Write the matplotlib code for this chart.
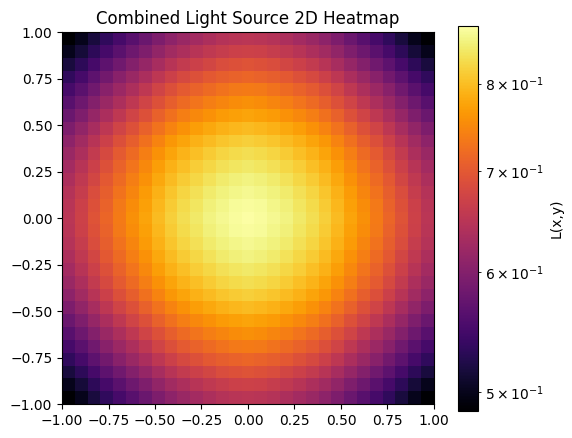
import numpy as np
import matplotlib
matplotlib.use("Agg")
import matplotlib.pyplot as plt
from matplotlib.colors import LogNorm

# L(x,y) per cell, 29 x 29 grid, row 0 = y=-1 (bottom)
L_ROWS = [
    [0.486, 0.500, 0.517, 0.534, 0.550, 0.564, 0.579, 0.595, 0.609, 0.620, 0.629, 0.637, 0.644, 0.649, 0.651, 0.649, 0.644, 0.637, 0.629, 0.620, 0.609, 0.595, 0.579, 0.564, 0.550, 0.534, 0.517, 0.500, 0.486],
    [0.500, 0.515, 0.532, 0.550, 0.566, 0.581, 0.597, 0.613, 0.627, 0.638, 0.648, 0.656, 0.663, 0.668, 0.671, 0.668, 0.663, 0.656, 0.648, 0.638, 0.627, 0.613, 0.597, 0.581, 0.566, 0.550, 0.532, 0.515, 0.500],
    [0.517, 0.532, 0.550, 0.568, 0.584, 0.600, 0.616, 0.633, 0.648, 0.659, 0.669, 0.677, 0.685, 0.690, 0.693, 0.690, 0.685, 0.677, 0.669, 0.659, 0.648, 0.633, 0.616, 0.600, 0.584, 0.568, 0.550, 0.532, 0.517],
    [0.534, 0.550, 0.568, 0.586, 0.604, 0.620, 0.636, 0.653, 0.669, 0.681, 0.691, 0.700, 0.707, 0.712, 0.715, 0.712, 0.707, 0.700, 0.691, 0.681, 0.669, 0.653, 0.636, 0.620, 0.604, 0.586, 0.568, 0.550, 0.534],
    [0.550, 0.566, 0.584, 0.604, 0.622, 0.638, 0.655, 0.673, 0.689, 0.701, 0.711, 0.720, 0.728, 0.734, 0.737, 0.734, 0.728, 0.720, 0.711, 0.701, 0.689, 0.673, 0.655, 0.638, 0.622, 0.604, 0.584, 0.566, 0.550],
    [0.564, 0.581, 0.600, 0.620, 0.638, 0.655, 0.673, 0.691, 0.707, 0.720, 0.730, 0.740, 0.747, 0.753, 0.756, 0.753, 0.747, 0.740, 0.730, 0.720, 0.707, 0.691, 0.673, 0.655, 0.638, 0.620, 0.600, 0.581, 0.564],
    [0.579, 0.597, 0.616, 0.636, 0.655, 0.673, 0.691, 0.709, 0.726, 0.739, 0.750, 0.759, 0.767, 0.773, 0.776, 0.773, 0.767, 0.759, 0.750, 0.739, 0.726, 0.709, 0.691, 0.673, 0.655, 0.636, 0.616, 0.597, 0.579],
    [0.595, 0.613, 0.633, 0.653, 0.673, 0.691, 0.709, 0.728, 0.745, 0.759, 0.770, 0.780, 0.788, 0.794, 0.797, 0.794, 0.788, 0.780, 0.770, 0.759, 0.745, 0.728, 0.709, 0.691, 0.673, 0.653, 0.633, 0.613, 0.595],
    [0.609, 0.627, 0.648, 0.669, 0.689, 0.707, 0.726, 0.745, 0.763, 0.776, 0.788, 0.798, 0.807, 0.813, 0.816, 0.813, 0.807, 0.798, 0.788, 0.776, 0.763, 0.745, 0.726, 0.707, 0.689, 0.669, 0.648, 0.627, 0.609],
    [0.620, 0.638, 0.659, 0.681, 0.701, 0.720, 0.739, 0.759, 0.776, 0.790, 0.802, 0.812, 0.821, 0.827, 0.831, 0.827, 0.821, 0.812, 0.802, 0.790, 0.776, 0.759, 0.739, 0.720, 0.701, 0.681, 0.659, 0.638, 0.620],
    [0.629, 0.648, 0.669, 0.691, 0.711, 0.730, 0.750, 0.770, 0.788, 0.802, 0.814, 0.824, 0.833, 0.839, 0.843, 0.839, 0.833, 0.824, 0.814, 0.802, 0.788, 0.770, 0.750, 0.730, 0.711, 0.691, 0.669, 0.648, 0.629],
    [0.637, 0.656, 0.677, 0.700, 0.720, 0.740, 0.759, 0.780, 0.798, 0.812, 0.824, 0.835, 0.844, 0.850, 0.854, 0.850, 0.844, 0.835, 0.824, 0.812, 0.798, 0.780, 0.759, 0.740, 0.720, 0.700, 0.677, 0.656, 0.637],
    [0.644, 0.663, 0.685, 0.707, 0.728, 0.747, 0.767, 0.788, 0.807, 0.821, 0.833, 0.844, 0.853, 0.859, 0.863, 0.859, 0.853, 0.844, 0.833, 0.821, 0.807, 0.788, 0.767, 0.747, 0.728, 0.707, 0.685, 0.663, 0.644],
    [0.649, 0.668, 0.690, 0.712, 0.734, 0.753, 0.773, 0.794, 0.813, 0.827, 0.839, 0.850, 0.859, 0.866, 0.869, 0.866, 0.859, 0.850, 0.839, 0.827, 0.813, 0.794, 0.773, 0.753, 0.734, 0.712, 0.690, 0.668, 0.649],
    [0.651, 0.671, 0.693, 0.715, 0.737, 0.756, 0.776, 0.797, 0.816, 0.831, 0.843, 0.854, 0.863, 0.869, 0.873, 0.869, 0.863, 0.854, 0.843, 0.831, 0.816, 0.797, 0.776, 0.756, 0.737, 0.715, 0.693, 0.671, 0.651],
    [0.649, 0.668, 0.690, 0.712, 0.734, 0.753, 0.773, 0.794, 0.813, 0.827, 0.839, 0.850, 0.859, 0.866, 0.869, 0.866, 0.859, 0.850, 0.839, 0.827, 0.813, 0.794, 0.773, 0.753, 0.734, 0.712, 0.690, 0.668, 0.649],
    [0.644, 0.663, 0.685, 0.707, 0.728, 0.747, 0.767, 0.788, 0.807, 0.821, 0.833, 0.844, 0.853, 0.859, 0.863, 0.859, 0.853, 0.844, 0.833, 0.821, 0.807, 0.788, 0.767, 0.747, 0.728, 0.707, 0.685, 0.663, 0.644],
    [0.637, 0.656, 0.677, 0.700, 0.720, 0.740, 0.759, 0.780, 0.798, 0.812, 0.824, 0.835, 0.844, 0.850, 0.854, 0.850, 0.844, 0.835, 0.824, 0.812, 0.798, 0.780, 0.759, 0.740, 0.720, 0.700, 0.677, 0.656, 0.637],
    [0.629, 0.648, 0.669, 0.691, 0.711, 0.730, 0.750, 0.770, 0.788, 0.802, 0.814, 0.824, 0.833, 0.839, 0.843, 0.839, 0.833, 0.824, 0.814, 0.802, 0.788, 0.770, 0.750, 0.730, 0.711, 0.691, 0.669, 0.648, 0.629],
    [0.620, 0.638, 0.659, 0.681, 0.701, 0.720, 0.739, 0.759, 0.776, 0.790, 0.802, 0.812, 0.821, 0.827, 0.831, 0.827, 0.821, 0.812, 0.802, 0.790, 0.776, 0.759, 0.739, 0.720, 0.701, 0.681, 0.659, 0.638, 0.620],
    [0.609, 0.627, 0.648, 0.669, 0.689, 0.707, 0.726, 0.745, 0.763, 0.776, 0.788, 0.798, 0.807, 0.813, 0.816, 0.813, 0.807, 0.798, 0.788, 0.776, 0.763, 0.745, 0.726, 0.707, 0.689, 0.669, 0.648, 0.627, 0.609],
    [0.595, 0.613, 0.633, 0.653, 0.673, 0.691, 0.709, 0.728, 0.745, 0.759, 0.770, 0.780, 0.788, 0.794, 0.797, 0.794, 0.788, 0.780, 0.770, 0.759, 0.745, 0.728, 0.709, 0.691, 0.673, 0.653, 0.633, 0.613, 0.595],
    [0.579, 0.597, 0.616, 0.636, 0.655, 0.673, 0.691, 0.709, 0.726, 0.739, 0.750, 0.759, 0.767, 0.773, 0.776, 0.773, 0.767, 0.759, 0.750, 0.739, 0.726, 0.709, 0.691, 0.673, 0.655, 0.636, 0.616, 0.597, 0.579],
    [0.564, 0.581, 0.600, 0.620, 0.638, 0.655, 0.673, 0.691, 0.707, 0.720, 0.730, 0.740, 0.747, 0.753, 0.756, 0.753, 0.747, 0.740, 0.730, 0.720, 0.707, 0.691, 0.673, 0.655, 0.638, 0.620, 0.600, 0.581, 0.564],
    [0.550, 0.566, 0.584, 0.604, 0.622, 0.638, 0.655, 0.673, 0.689, 0.701, 0.711, 0.720, 0.728, 0.734, 0.737, 0.734, 0.728, 0.720, 0.711, 0.701, 0.689, 0.673, 0.655, 0.638, 0.622, 0.604, 0.584, 0.566, 0.550],
    [0.534, 0.550, 0.568, 0.586, 0.604, 0.620, 0.636, 0.653, 0.669, 0.681, 0.691, 0.700, 0.707, 0.712, 0.715, 0.712, 0.707, 0.700, 0.691, 0.681, 0.669, 0.653, 0.636, 0.620, 0.604, 0.586, 0.568, 0.550, 0.534],
    [0.517, 0.532, 0.550, 0.568, 0.584, 0.600, 0.616, 0.633, 0.648, 0.659, 0.669, 0.677, 0.685, 0.690, 0.693, 0.690, 0.685, 0.677, 0.669, 0.659, 0.648, 0.633, 0.616, 0.600, 0.584, 0.568, 0.550, 0.532, 0.517],
    [0.500, 0.515, 0.532, 0.550, 0.566, 0.581, 0.597, 0.613, 0.627, 0.638, 0.648, 0.656, 0.663, 0.668, 0.671, 0.668, 0.663, 0.656, 0.648, 0.638, 0.627, 0.613, 0.597, 0.581, 0.566, 0.550, 0.532, 0.515, 0.500],
    [0.486, 0.500, 0.517, 0.534, 0.550, 0.564, 0.579, 0.595, 0.609, 0.620, 0.629, 0.637, 0.644, 0.649, 0.651, 0.649, 0.644, 0.637, 0.629, 0.620, 0.609, 0.595, 0.579, 0.564, 0.550, 0.534, 0.517, 0.500, 0.486],
]
X_RANGE = [-1.0, 1.0]
Y_RANGE = [-1.0, 1.0]

L = np.array(L_ROWS)

fig = plt.figure(figsize=(5.72, 4.38), dpi=100)
ax = fig.add_axes([0.1084, 0.0776, 0.6503, 0.8493])
cax = fig.add_axes([0.8002, 0.0623, 0.035, 0.8776])

im = ax.imshow(L, origin="lower", cmap="inferno",
               extent=[X_RANGE[0], X_RANGE[1], Y_RANGE[0], Y_RANGE[1]],
               norm=LogNorm(vmin=L.min(), vmax=L.max()), aspect="equal")
ax.set_xticks(np.arange(-1.0, 1.01, 0.25))
ax.set_yticks(np.arange(-1.0, 1.01, 0.25))
ax.set_title("Combined Light Source 2D Heatmap")

cb = fig.colorbar(im, cax=cax)
cb.set_label("L(x,y)")

fig.savefig("out.png", dpi=100)
